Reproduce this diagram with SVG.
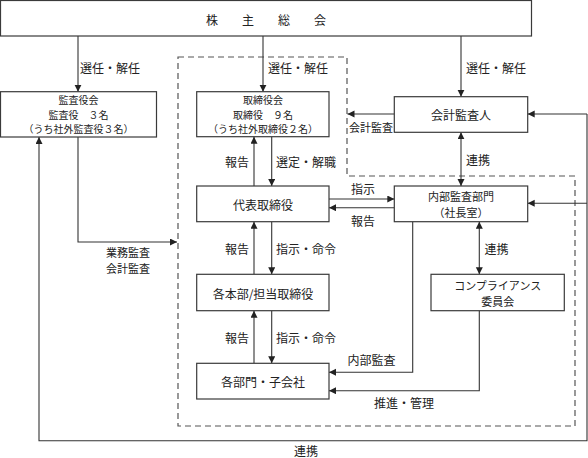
<svg xmlns="http://www.w3.org/2000/svg" width="588" height="458" viewBox="0 0 588 458">
<style>
text{font-family:"Noto Sans CJK JP","Noto Sans",sans-serif;font-size:12px;fill:#222;text-anchor:middle;dominant-baseline:central}
.box{fill:#fff;stroke:#3a3a3a;stroke-width:1.2}
.c{fill:none;stroke:#333;stroke-width:1.1}
.a{marker-end:url(#ah)}
.d{marker-start:url(#ah);marker-end:url(#ah)}
.dash{fill:none;stroke:#555;stroke-width:1.2;stroke-dasharray:6 4}
.s{font-size:11px}
.t{font-size:10px}
</style>
<defs>
<marker id="ah" markerUnits="userSpaceOnUse" markerWidth="8" markerHeight="8" refX="7" refY="3.5" orient="auto-start-reverse">
<path d="M0,0 L7,3.5 L0,7 z" fill="#222"/>
</marker>
</defs>
<rect width="588" height="458" fill="#fff"/>
<path class="dash" d="M178,57 H347 V176 H575 V426 H178 Z"/>
<g id="connectors">
<path class="c a" d="M78,36 V91.7"/>
<path class="c a" d="M263,36 V91.7"/>
<path class="c a" d="M461,36 V96.7"/>
<path class="c a" d="M254,186 V136.7"/>
<path class="c a" d="M271.7,136.7 V186"/>
<path class="c a" d="M329,199 H394.3"/>
<path class="c a" d="M394.3,207.7 H329"/>
<path class="c a" d="M254,274.3 V221.7"/>
<path class="c a" d="M271.7,221.7 V274.3"/>
<path class="c a" d="M254,363.3 V310.7"/>
<path class="c a" d="M271.7,310.7 V363.3"/>
<path class="c a" d="M394.3,114 H347.5"/>
<path class="c d" d="M461,132.3 V186"/>
<path class="c d" d="M479.3,221.7 V274.3"/>
<path class="c a" d="M412.7,221.7 V372.3 H329"/>
<path class="c a" d="M479.3,310.7 V390.7 H329"/>
<path class="c a" d="M587,114 V440.7 H39 V137"/>
<path class="c a" d="M587,114 H527.7"/>
<path class="c a" d="M587,203.3 H527.7"/>
<path class="c a" d="M78,137 V242 H177"/>
<text x="110" y="67">選任・解任</text>
<text x="298" y="67">選任・解任</text>
<text x="496" y="67">選任・解任</text>
<text x="371" y="126.7" class="s">会計監査</text>
<text x="478" y="159">連携</text>
<text x="237" y="161.7">報告</text>
<text x="306" y="161.7">選定・解職</text>
<text x="363" y="188.3">指示</text>
<text x="363" y="220">報告</text>
<text x="237" y="248.3">報告</text>
<text x="306" y="248.3">指示・命令</text>
<text x="496.5" y="248.3">連携</text>
<text x="128" y="252" class="s">業務監査</text>
<text x="128" y="268" class="s">会計監査</text>
<text x="237" y="337.3">報告</text>
<text x="306" y="337.3">指示・命令</text>
<text x="371.5" y="359.3">内部監査</text>
<text x="404" y="402.7">推進・管理</text>
<text x="306" y="450.5">連携</text>
</g>
<g id="shareholders">
<rect class="box" x="0.5" y="0.5" width="531" height="35.5"/>
<text x="206" y="19" style="text-anchor:start;letter-spacing:6px">株　主　総　会</text>
</g>
<g id="auditors">
<rect class="box" x="0.5" y="91.7" width="156" height="45.3"/>
<text x="78.5" y="99.8" class="t">監査役会</text>
<text x="78.5" y="114.3" class="t">監査役　３名</text>
<text x="78.5" y="128.8" class="t">（うち社外監査役３名）</text>
</g>
<g id="board">
<rect class="box" x="196.7" y="91.7" width="132.3" height="45"/>
<text x="263" y="99.8" class="t">取締役会</text>
<text x="263" y="114.3" class="t">取締役　９名</text>
<text x="263" y="128.8" class="t">（うち社外取締役２名）</text>
</g>
<g id="accounting-auditor">
<rect class="box" x="394.3" y="96.7" width="133.4" height="35.6"/>
<text x="461" y="114.5">会計監査人</text>
</g>
<g id="representative">
<rect class="box" x="196.7" y="186" width="132.3" height="35.7"/>
<text x="263" y="204">代表取締役</text>
</g>
<g id="internal-audit">
<rect class="box" x="394.3" y="186" width="133.4" height="35.7"/>
<text x="461" y="195.8" class="s">内部監査部門</text>
<text x="461" y="211.9" class="s">（社長室）</text>
</g>
<g id="divisions">
<rect class="box" x="196.7" y="274.3" width="132.3" height="36.4"/>
<text x="263" y="293">各本部/担当取締役</text>
</g>
<g id="compliance">
<rect class="box" x="431" y="274.3" width="133.3" height="36.4"/>
<text x="497.7" y="284.5" class="s">コンプライアンス</text>
<text x="497.7" y="300.6" class="s">委員会</text>
</g>
<g id="departments">
<rect class="box" x="196.7" y="363.3" width="132.3" height="35.7"/>
<text x="263" y="381.5">各部門・子会社</text>
</g>
</svg>
